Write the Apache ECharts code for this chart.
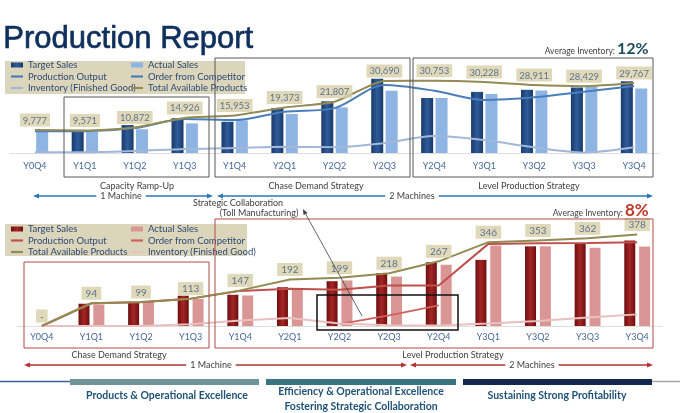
<!DOCTYPE html>
<html>
<head>
<meta charset="utf-8">
<title>Production Report</title>
<script src="https://cdn.jsdelivr.net/npm/echarts/dist/echarts.min.js"></script>
<style>
  html, body { margin: 0; padding: 0; background: #fff; }
  #chart { width: 680px; height: 413px; }
</style>
</head>
<body>
<div id="chart"></div>
<script>
// quarters shared by both charts
const quarters = ['Y0Q4', 'Y1Q1', 'Y1Q2', 'Y1Q3', 'Y1Q4', 'Y2Q1', 'Y2Q2', 'Y2Q3', 'Y2Q4', 'Y3Q1', 'Y3Q2', 'Y3Q3', 'Y3Q4']

// top chart (blue)
const topTargetSales = [null, 9400, 11900, 14800, 13300, 19100, 22000, 31600, 23400, 26000, 26900, 27900, 30500]
const topActualSales = [9500, 9100, 10100, 12600, 13900, 16600, 19400, 26500, 23400, 25100, 26600, 28300, 27400]
const topProduction = [9300, 9300, 10600, 14500, 14000, 17600, 19100, 28900, 26500, 22600, 23700, 26100, 28500]
const topCompetitor = []
const topInventory = [300, 300, 850, 1700, 2100, 2700, 2500, 4200, 7200, 5500, 2400, 200, 2400]
const topAvailable = [9777, 9571, 10872, 14926, 15953, 19373, 21807, 30690, 30753, 30228, 28911, 28429, 29767]

// bottom chart (red)
const botTargetSales = [null, 92, 96, 125, 129, 160, 185, 218, 263, 273, 329, 342, 353]
const botActualSales = [null, 89, 99, 112, 126, 152, 188, 204, 253, 332, 329, 323, 328]
const botProduction = [0, 94, 98, 113, 145, 154, 150, 167, 167, 339, 342, 343, 346]
const botCompetitor = [null, null, null, null, null, null, 8, 44, 85, null, null, null, null]
const botAvailable = [0, 94, 99, 113, 147, 192, 199, 218, 267, 346, 353, 362, 378]
const botInventory = [0, 0, 0, 7, 23, 33, 10, 3, 2, 10, 21, 35, 48]

const FONT = 'Lato'
const B = ' (B)' // suffix so the two legends don't share series
const LINE_ICON = 'path://M0,0H11V2H0Z'

// 1,234 style
const fmt = (v) => String(v).replace(/\B(?=(\d{3})+(?!\d))/g, ',')

const chart = echarts.init(document.getElementById('chart'))

const barGrad = (edge, mid) => ({
  type: 'linear', x: 0, y: 0, x2: 1, y2: 0,
  colorStops: [{ offset: 0, color: edge }, { offset: 0.5, color: mid }, { offset: 1, color: edge }],
})

// arrow with heads on both ends and a label cutting the line
function arrowLine (x1, x2, y, color) {
  return [
    { type: 'line', shape: { x1: x1 + 3, y1: y, x2: x2 - 3, y2: y }, style: { stroke: color, lineWidth: 1.5 }, z: 10 },
    { type: 'polygon', shape: { points: [[x1, y], [x1 + 6, y - 2.5], [x1 + 6, y + 2.5]] }, style: { fill: color }, z: 10 },
    { type: 'polygon', shape: { points: [[x2, y], [x2 - 6, y - 2.5], [x2 - 6, y + 2.5]] }, style: { fill: color }, z: 10 },
  ]
}

function note (text, x, y, extra) {
  return {
    type: 'text', x, y, z: 11,
    style: Object.assign({
      text, fontFamily: FONT, fontSize: 9, fill: '#404040',
      align: 'center', verticalAlign: 'middle',
    }, extra || {}),
  }
}

function box (x, y, w, h, color, lw) {
  return {
    type: 'rect', shape: { x, y, width: w, height: h }, z: 9,
    style: { fill: 'none', stroke: color, lineWidth: lw || 1 },
  }
}

const legendText = { fontFamily: FONT, fontSize: 9.5, color: '#2f4a74' }
const legendBase = {
  orient: 'vertical', itemGap: 1.5, itemWidth: 12, itemHeight: 5,
  textStyle: legendText, padding: 0, z: 6,
  formatter: (name) => name.replace(B, ''),
}

const axisLabel = { fontFamily: FONT, fontSize: 9, color: '#45679a' }

// transparent points only carrying the value boxes
const labelSeries = (xi, data, formatter, fontSize, pad) => ({
  name: 'labels' + xi, type: 'scatter', xAxisIndex: xi, yAxisIndex: xi,
  data, symbolSize: 1, itemStyle: { color: 'rgba(0,0,0,0)' }, z: 6,
  label: {
    show: true, position: 'top', distance: 3, formatter,
    fontFamily: FONT, fontSize, color: '#3e5a86',
    backgroundColor: '#d7cfa8', padding: pad,
  },
})

const valueOf = (p) => (Array.isArray(p.value) ? p.value[1] : p.value)

chart.setOption({
  animation: false,
  backgroundColor: '#fff',
  grid: [
    { left: 10, right: 21, top: 59, height: 94, outerBoundsMode: 'none' },
    { left: 17, right: 18, top: 217, height: 109, outerBoundsMode: 'none' },
  ],
  xAxis: [
    {
      gridIndex: 0, type: 'category', data: quarters,
      axisLine: { lineStyle: { color: '#dedede' } }, axisTick: { show: false },
      axisLabel: Object.assign({ margin: 9 }, axisLabel),
    },
    {
      gridIndex: 1, type: 'category', data: quarters,
      axisLine: { lineStyle: { color: '#dedede' } }, axisTick: { show: false },
      axisLabel: Object.assign({ margin: 7 }, axisLabel),
    },
  ],
  yAxis: [
    { gridIndex: 0, type: 'value', min: 0, max: 40000, show: false, splitLine: { show: false } },
    { gridIndex: 1, type: 'value', min: 0, max: 450, show: false, splitLine: { show: false } },
  ],
  legend: [
    Object.assign({}, legendBase, {
      left: 11, top: 60,
      data: [
        { name: 'Target Sales', icon: 'rect' },
        { name: 'Production Output', icon: LINE_ICON },
        { name: 'Inventory (Finished Good)', icon: LINE_ICON },
      ],
    }),
    Object.assign({}, legendBase, {
      left: 131, top: 60,
      data: [
        { name: 'Actual Sales', icon: 'rect' },
        { name: 'Order from Competitor', icon: LINE_ICON },
        { name: 'Total Available Products', icon: LINE_ICON },
      ],
    }),
    Object.assign({}, legendBase, {
      left: 11, top: 224,
      data: [
        { name: 'Target Sales' + B, icon: 'rect' },
        { name: 'Production Output' + B, icon: LINE_ICON },
        { name: 'Total Available Products' + B, icon: LINE_ICON },
      ],
    }),
    Object.assign({}, legendBase, {
      left: 131, top: 224,
      data: [
        { name: 'Actual Sales' + B, icon: 'rect' },
        { name: 'Order from Competitor' + B, icon: LINE_ICON },
        { name: 'Inventory (Finished Good)' + B, icon: LINE_ICON },
      ],
    }),
  ],
  series: [
    // top chart
    {
      name: 'Target Sales', type: 'bar', xAxisIndex: 0, yAxisIndex: 0,
      data: topTargetSales, barWidth: 12, barGap: '20%',
      itemStyle: { color: barGrad('#1a3968', '#2e5c9c') },
    },
    {
      name: 'Actual Sales', type: 'bar', xAxisIndex: 0, yAxisIndex: 0,
      data: topActualSales, barWidth: 12,
      itemStyle: { color: '#8eb4e3' },
    },
    {
      name: 'Production Output', type: 'line', xAxisIndex: 0, yAxisIndex: 0,
      data: topProduction, symbol: 'none', smooth: 0.3,
      lineStyle: { color: '#4a7ebb', width: 2 }, itemStyle: { color: '#4a7ebb' },
    },
    {
      name: 'Order from Competitor', type: 'line', xAxisIndex: 0, yAxisIndex: 0,
      data: topCompetitor, symbol: 'none',
      lineStyle: { color: '#4a7ebb', width: 2 }, itemStyle: { color: '#4a7ebb' },
    },
    {
      name: 'Inventory (Finished Good)', type: 'line', xAxisIndex: 0, yAxisIndex: 0,
      data: topInventory, symbol: 'none', smooth: 0.3,
      lineStyle: { color: '#a3b7d8', width: 2 }, itemStyle: { color: '#a3b7d8' },
    },
    {
      name: 'Total Available Products', type: 'line', xAxisIndex: 0, yAxisIndex: 0,
      data: topAvailable, symbol: 'none', smooth: 0.2, z: 5,
      lineStyle: { color: '#948a54', width: 2 }, itemStyle: { color: '#948a54' },
    },
    labelSeries(0, topAvailable, (p) => fmt(valueOf(p)), 9.5, [2, 3, 1, 3]),
    // bottom chart
    {
      name: 'Target Sales' + B, type: 'bar', xAxisIndex: 1, yAxisIndex: 1,
      data: botTargetSales, barWidth: 11, barGap: '35%',
      itemStyle: { color: barGrad('#6c0f0f', '#a52626') },
    },
    {
      name: 'Actual Sales' + B, type: 'bar', xAxisIndex: 1, yAxisIndex: 1,
      data: botActualSales, barWidth: 11,
      itemStyle: { color: '#d99694' },
    },
    {
      name: 'Production Output' + B, type: 'line', xAxisIndex: 1, yAxisIndex: 1,
      data: botProduction, symbol: 'none',
      lineStyle: { color: '#c0504d', width: 2 }, itemStyle: { color: '#c0504d' },
    },
    {
      name: 'Order from Competitor' + B, type: 'line', xAxisIndex: 1, yAxisIndex: 1,
      data: botCompetitor, symbol: 'none',
      lineStyle: { color: '#d0605c', width: 1.8 }, itemStyle: { color: '#d0605c' },
    },
    {
      name: 'Total Available Products' + B, type: 'line', xAxisIndex: 1, yAxisIndex: 1,
      data: botAvailable, symbol: 'none', z: 5,
      lineStyle: { color: '#948a54', width: 2 }, itemStyle: { color: '#948a54' },
    },
    {
      name: 'Inventory (Finished Good)' + B, type: 'line', xAxisIndex: 1, yAxisIndex: 1,
      data: botInventory, symbol: 'none',
      lineStyle: { color: '#e8c0bf', width: 2 }, itemStyle: { color: '#e8c0bf' },
    },
    labelSeries(1, botAvailable, (p) => (valueOf(p) === 0 ? '-' : String(valueOf(p))), 10, [2, 4, 1, 4]),
  ],
  graphic: [
    // title
    {
      type: 'text', left: 3, top: 24, z: 11,
      style: {
        text: 'Production Report', fontFamily: 'Liberation Sans', fontSize: 31,
        fill: '#0f2f5c', stroke: '#0f2f5c', lineWidth: 0.7,
      },
    },
    // legend backgrounds
    { type: 'rect', shape: { x: 5, y: 61, width: 240, height: 33 }, style: { fill: '#dbd5bb' }, z: 3 },
    { type: 'rect', shape: { x: 5, y: 224, width: 242, height: 32 }, style: { fill: '#dbd5bb' }, z: 3 },

    // average inventory
    note('Average Inventory:', 615, 51, { align: 'right', fontSize: 8.5 }),
    note('12%', 617, 49, { align: 'left', fontSize: 16, fontWeight: 'bold', fill: '#1d4e5e' }),
    note('Average Inventory:', 623, 213, { align: 'right', fontSize: 8.5 }),
    note('8%', 625, 211, { align: 'left', fontSize: 17, fontWeight: 'bold', fill: '#c0392b' }),

    // top strategy boxes
    box(64, 97, 145, 80, '#595959'),
    box(215, 58, 195, 119, '#595959'),
    box(413, 58, 240, 119, '#595959'),
    note('Capacity Ramp-Up', 137, 186),
    note('Chase Demand Strategy', 316, 186),
    note('Level Production Strategy', 529, 186),
    ...arrowLine(33, 213, 196, '#2e75b6'),
    ...arrowLine(217, 653, 196, '#2e75b6'),
    note('1 Machine', 121, 196, { backgroundColor: '#fff', padding: [0, 4] }),
    note('2 Machines', 412, 196, { backgroundColor: '#fff', padding: [0, 4] }),

    note('Strategic Collaboration', 238, 203),
    note('(Toll Manufacturing)', 259, 213),
    { type: 'line', shape: { x1: 304, y1: 211, x2: 362, y2: 316 }, style: { stroke: '#404040', lineWidth: 0.8 }, z: 12 },
    { type: 'polygon', shape: { points: [[303, 209], [303.5, 215], [307.5, 213]] }, style: { fill: '#404040' }, z: 12 },

    // bottom strategy boxes
    box(24, 262, 185, 86, '#b24a48'),
    box(215, 219, 438, 129, '#b24a48'),
    box(317, 295, 141, 35, '#111111', 1.5),
    note('Chase Demand Strategy', 119, 355),
    note('Level Production Strategy', 453, 355),
    ...arrowLine(24, 407, 365, '#b03434'),
    ...arrowLine(410, 653, 365, '#b03434'),
    note('1 Machine', 211, 365, { backgroundColor: '#fff', padding: [0, 4] }),
    note('2 Machines', 532, 365, { backgroundColor: '#fff', padding: [0, 4] }),

    // footer
    { type: 'line', shape: { x1: 0, y1: 381.5, x2: 70, y2: 381.5 }, style: { stroke: '#3a5f9a', lineWidth: 1.5 }, z: 10 },
    { type: 'line', shape: { x1: 652, y1: 381.5, x2: 680, y2: 381.5 }, style: { stroke: '#a6a6a6', lineWidth: 1.5 }, z: 10 },
    { type: 'rect', shape: { x: 70, y: 379, width: 189, height: 6 }, style: { fill: '#6f959b' }, z: 10 },
    { type: 'rect', shape: { x: 266, y: 379, width: 190, height: 6 }, style: { fill: '#3a7482' }, z: 10 },
    { type: 'rect', shape: { x: 463, y: 379, width: 189, height: 6 }, style: { fill: '#132a4e' }, z: 10 },
    note('Products & Operational Excellence', 167, 396, { fontSize: 10.5, fontWeight: 'bold', fill: '#1f5277' }),
    note('Efficiency & Operational Excellence', 361, 392, { fontSize: 10.5, fontWeight: 'bold', fill: '#1f5277' }),
    note('Fostering Strategic Collaboration', 361, 407, { fontSize: 10.5, fontWeight: 'bold', fill: '#1f5277' }),
    note('Sustaining Strong Profitability', 557, 396, { fontSize: 10.5, fontWeight: 'bold', fill: '#1f5277' }),
  ],
})
</script>
</body>
</html>
